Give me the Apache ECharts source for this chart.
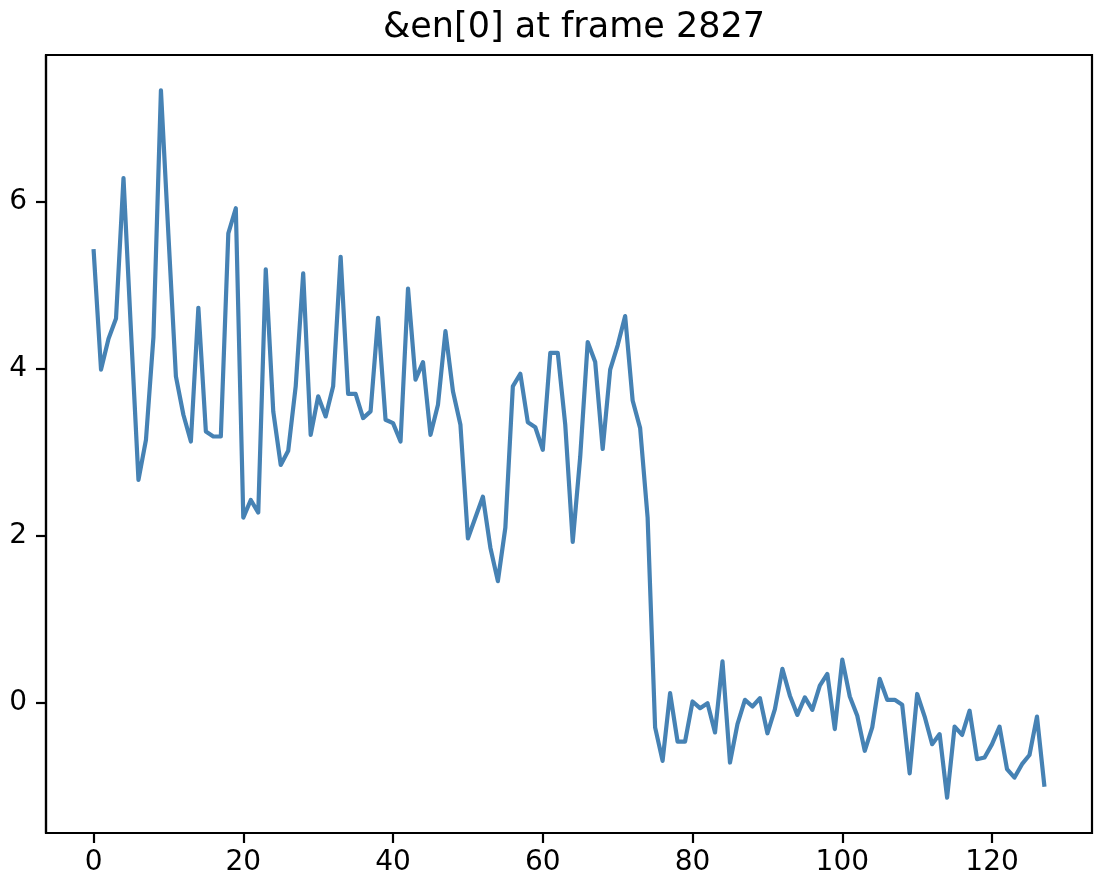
<!DOCTYPE html>
<html>
<head>
<meta charset="utf-8">
<script src="https://cdn.jsdelivr.net/npm/echarts@6/dist/echarts.min.js"></script>
<style>
  html, body { margin: 0; padding: 0; background: #fff; }
  #chart { width: 1102px; height: 886px; }
</style>
</head>
<body>
<div id="chart"></div>
<script>
// values of &en[0]
const enValues = [
  5.43, 3.99, 4.36, 4.60, 6.28, 4.45, 2.67, 3.15, 4.38, 7.33,
  5.60, 3.91, 3.45, 3.13, 4.73, 3.25, 3.19, 3.19, 5.62, 5.92,
  2.22, 2.43, 2.28, 5.19, 3.49, 2.85, 3.02, 3.79, 5.14, 3.21,
  3.67, 3.43, 3.79, 5.34, 3.70, 3.70, 3.41, 3.49, 4.61, 3.39,
  3.35, 3.13, 4.96, 3.87, 4.08, 3.21, 3.57, 4.45, 3.73, 3.33,
  1.97, 2.22, 2.47, 1.86, 1.46, 2.10, 3.79, 3.94, 3.36, 3.30,
  3.03, 4.19, 4.19, 3.33, 1.93, 2.95, 4.32, 4.08, 3.04, 3.99,
  4.28, 4.63, 3.62, 3.29, 2.22, -0.29, -0.69, 0.12, -0.46, -0.46,
  0.02, -0.06, 0.00, -0.35, 0.50, -0.71, -0.25, 0.04, -0.04, 0.06,
  -0.36, -0.07, 0.41, 0.09, -0.14, 0.07, -0.08, 0.21, 0.35, -0.31,
  0.52, 0.08, -0.15, -0.57, -0.29, 0.29, 0.04, 0.04, -0.02, -0.84,
  0.11, -0.16, -0.49, -0.37, -1.13, -0.28, -0.38, -0.09, -0.67, -0.65,
  -0.49, -0.28, -0.79, -0.89, -0.73, -0.62, -0.16, -1.00
];
const xTicks = [0, 20, 40, 60, 80, 100, 120];
const yTicks = [0, 2, 4, 6];
const titleText = '&en[0] at frame 2827';

const indices = enValues.map((_, i) => i);
const points = indices.map(i => [i, enValues[i]]);

// matplotlib style 5% margins
const xPad = (indices.length - 1) * 0.05;
const yMin = Math.min(...enValues), yMax = Math.max(...enValues);
const yPad = (yMax - yMin) * 0.05;

const font = 'DejaVu Sans';
const chart = echarts.init(document.getElementById('chart'));

chart.setOption({
  animation: false,
  title: {
    text: titleText,
    left: 569,
    textAlign: 'center',
    top: 5,
    textStyle: { fontFamily: font, fontSize: 35, fontWeight: 'normal', color: '#000' }
  },
  grid: {
    left: 46, top: 55, width: 1046, height: 778,
    show: true, borderColor: '#000', borderWidth: 2.2, backgroundColor: '#fff'
  },
  xAxis: {
    type: 'value',
    min: -xPad,
    max: indices.length - 1 + xPad,
    splitLine: { show: false },
    axisLine: { show: true, onZero: false, lineStyle: { color: '#000', width: 2.2 } },
    axisTick: { show: true, length: 10, lineStyle: { color: '#000', width: 2.2 }, customValues: xTicks },
    axisLabel: { fontFamily: font, fontSize: 28, color: '#000', margin: 16, customValues: xTicks }
  },
  yAxis: {
    type: 'value',
    min: yMin - yPad,
    max: yMax + yPad,
    splitLine: { show: false },
    axisLine: { show: true, onZero: false, lineStyle: { color: '#000', width: 2.2 } },
    axisTick: { show: true, length: 10, lineStyle: { color: '#000', width: 2.2 }, customValues: yTicks },
    axisLabel: { fontFamily: font, fontSize: 28, color: '#000', margin: 19, customValues: yTicks }
  },
  series: [{
    type: 'line',
    data: points,
    showSymbol: false,
    lineStyle: { color: '#4682b4', width: 4.2, join: 'round' },
    itemStyle: { color: '#4682b4' }
  }]
});
</script>
</body>
</html>
